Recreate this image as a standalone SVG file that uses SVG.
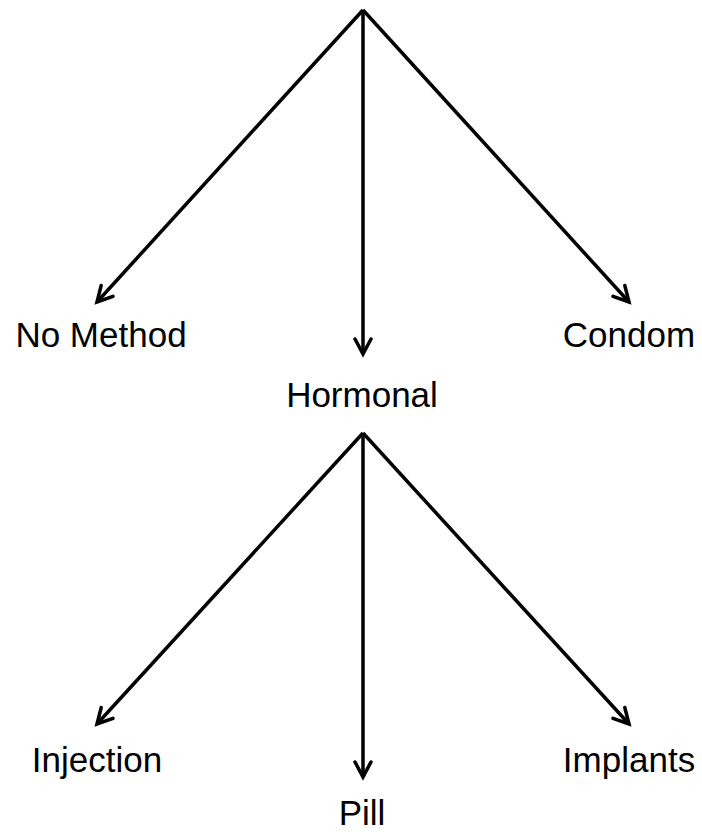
<svg xmlns="http://www.w3.org/2000/svg" width="702" height="835" viewBox="0 0 702 835">
<style>
.lbl{font-family:"Liberation Sans",Arial,sans-serif;font-size:35px;fill:#000;text-anchor:middle}
.edge{stroke:#000;stroke-width:3.5;fill:none;marker-end:url(#arr)}
</style>
<defs>
<marker id="arr" markerUnits="userSpaceOnUse" markerWidth="22" markerHeight="22" viewBox="-17 -11 22 22" refX="0" refY="0" orient="auto">
<path d="M-15,-8 L0,0 L-15,8" fill="none" stroke="#000" stroke-width="3.5" stroke-linecap="round" stroke-linejoin="miter"/>
</marker>
</defs>
<rect width="702" height="835" fill="#fff"/>
<g id="connectors">
<line class="edge" x1="363" y1="10" x2="97" y2="302"/>
<line class="edge" x1="363" y1="10" x2="363" y2="354"/>
<line class="edge" x1="363" y1="10" x2="629" y2="302"/>
<line class="edge" x1="363" y1="433" x2="97" y2="724"/>
<line class="edge" x1="363" y1="433" x2="363" y2="777"/>
<line class="edge" x1="363" y1="433" x2="629" y2="724"/>
</g>
<g id="node-nomethod"><text class="lbl" x="101" y="347">No Method</text></g>
<g id="node-hormonal"><text class="lbl" x="362" y="407">Hormonal</text></g>
<g id="node-condom"><text class="lbl" x="629" y="347">Condom</text></g>
<g id="node-injection"><text class="lbl" x="97" y="772">Injection</text></g>
<g id="node-pill"><text class="lbl" x="362" y="825">Pill</text></g>
<g id="node-implants"><text class="lbl" x="629" y="772">Implants</text></g>
</svg>
